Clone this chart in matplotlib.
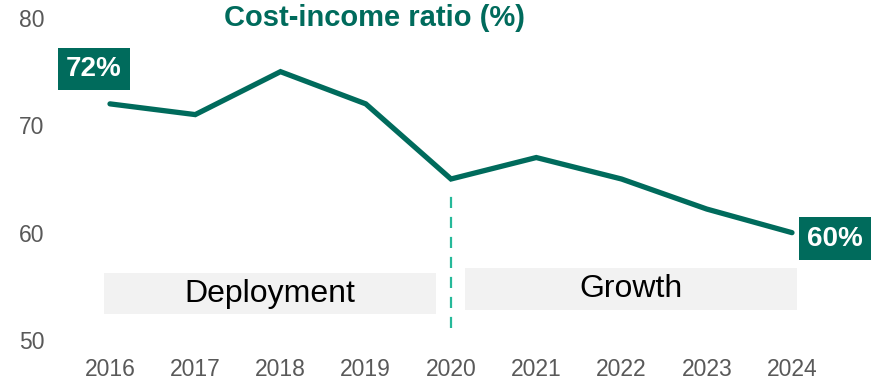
import matplotlib.pyplot as plt

plt.rcParams['font.family'] = ['Liberation Sans', 'DejaVu Sans']

# data
years = [2016, 2017, 2018, 2019, 2020, 2021, 2022, 2023, 2024]
ratio = [72, 71, 75, 72, 65, 67, 65, 62.2, 60]
yticks = [50, 60, 70, 80]
phases = ['Deployment', 'Growth']
phase_start = [2015.93, 2020.16]
phase_end = [2019.82, 2024.06]
phase_low = [52.4, 52.8]
phase_high = [56.25, 56.7]

teal = '#006b5c'
light_teal = '#26b99a'
grey = '#595959'

fig = plt.figure(figsize=(8.86, 3.81), dpi=100)
ax = fig.add_axes([50 / 886, 41 / 381, 836 / 886, 322 / 381])

ax.plot(years, ratio, color=teal, lw=3.8, solid_capstyle='round', solid_joinstyle='miter', zorder=3)

# phase boxes
for name, x0, x1, y0, y1 in zip(phases, phase_start, phase_end, phase_low, phase_high):
    ax.add_patch(plt.Rectangle((x0, y0), x1 - x0, y1 - y0, color='#f2f2f2', lw=0, zorder=1))
    ax.text((x0 + x1) / 2, (y0 + y1) / 2, name, ha='center', va='center',
            fontsize=23, color='black', zorder=2)

# divider
ax.plot([2020, 2020], [51.1, 63.6], color=light_teal, lw=1.6, dashes=(5, 4), zorder=2)

# end labels
box = dict(boxstyle='square,pad=0.3', fc=teal, ec='none')
ax.annotate(f'{ratio[0]:.0f}%', (years[0], ratio[0]), xytext=(-11.5, 25), textcoords='offset points',
            ha='center', va='center', fontsize=20, fontweight='bold', color='white', bbox=box)
ax.annotate(f'{ratio[-1]:.0f}%', (years[-1], ratio[-1]), xytext=(31, -4.3), textcoords='offset points',
            ha='center', va='center', fontsize=20, fontweight='bold', color='white', bbox=box)

ax.text(2019.1, 80, 'Cost-income ratio (%)', ha='center', va='center',
        fontsize=21, fontweight='bold', color=teal)

ax.set_xlim(2016 - 60 / 85.25, 2024 + 94 / 85.25)
ax.set_ylim(50, 80)
ax.set_xticks(years)
ax.set_yticks(yticks)
ax.tick_params(length=0, labelsize=16.5, labelcolor=grey)
ax.tick_params(axis='x', pad=13)
ax.tick_params(axis='y', pad=4)
for s in ax.spines.values():
    s.set_visible(False)

fig.savefig('out.png', dpi=100)
